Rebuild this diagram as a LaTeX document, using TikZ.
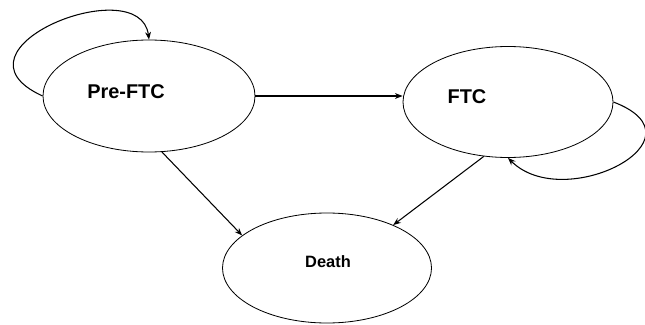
\documentclass[tikz,border=0pt]{standalone}
\usepackage{fontspec}
\setmainfont{Liberation Sans}
\usepackage{tikz}
\usetikzlibrary{arrows.meta,shapes.geometric}

\tikzset{
  state/.style={shape=ellipse,draw=black,line width=0.7pt,inner sep=0pt,minimum width=6.3cm,minimum height=3.33cm},
  statetext/.style={font=\bfseries\fontsize{17pt}{20pt}\selectfont},
  trans/.style={line width=0.9pt,-{Stealth[length=6.5pt,width=5pt]}}
}

\begin{document}
\begin{tikzpicture}
        \useasboundingbox (0,0) rectangle (19.35,9.72);
        % states
        \node [state,minimum width=6.36cm,minimum height=3.36cm] (pre) at (4.47,6.84) {};
        \node [state] (ftc) at (15.24,6.66) {};
        \node [state,minimum width=6.27cm,minimum height=3.3cm] (death) at (9.81,1.68) {};
        \node [statetext] (pretext) at (3.78,6.96) {Pre-FTC};
        \node [statetext] (ftctext) at (14.01,6.81) {FTC};
        \node [statetext,font=\bfseries\fontsize{14pt}{17pt}\selectfont] (deathtext) at (9.84,1.86) {Death};
        % transitions
        \draw [trans] (pre.east) -- (ftc.west |- pre.east);
        \draw [trans] (pre.-77) -- (death.159);
        \draw [trans] (ftc.-114) -- (death.33);
        % self loops
        \draw [trans] (pre.west) .. controls +(-3.09,1.41) and +(-0.27,2.1) .. (pre.north);
        \draw [trans] (ftc.east) .. controls +(2.91,-1.11) and +(1.68,-1.68) .. (ftc.south);
    \end{tikzpicture}
\end{document}
